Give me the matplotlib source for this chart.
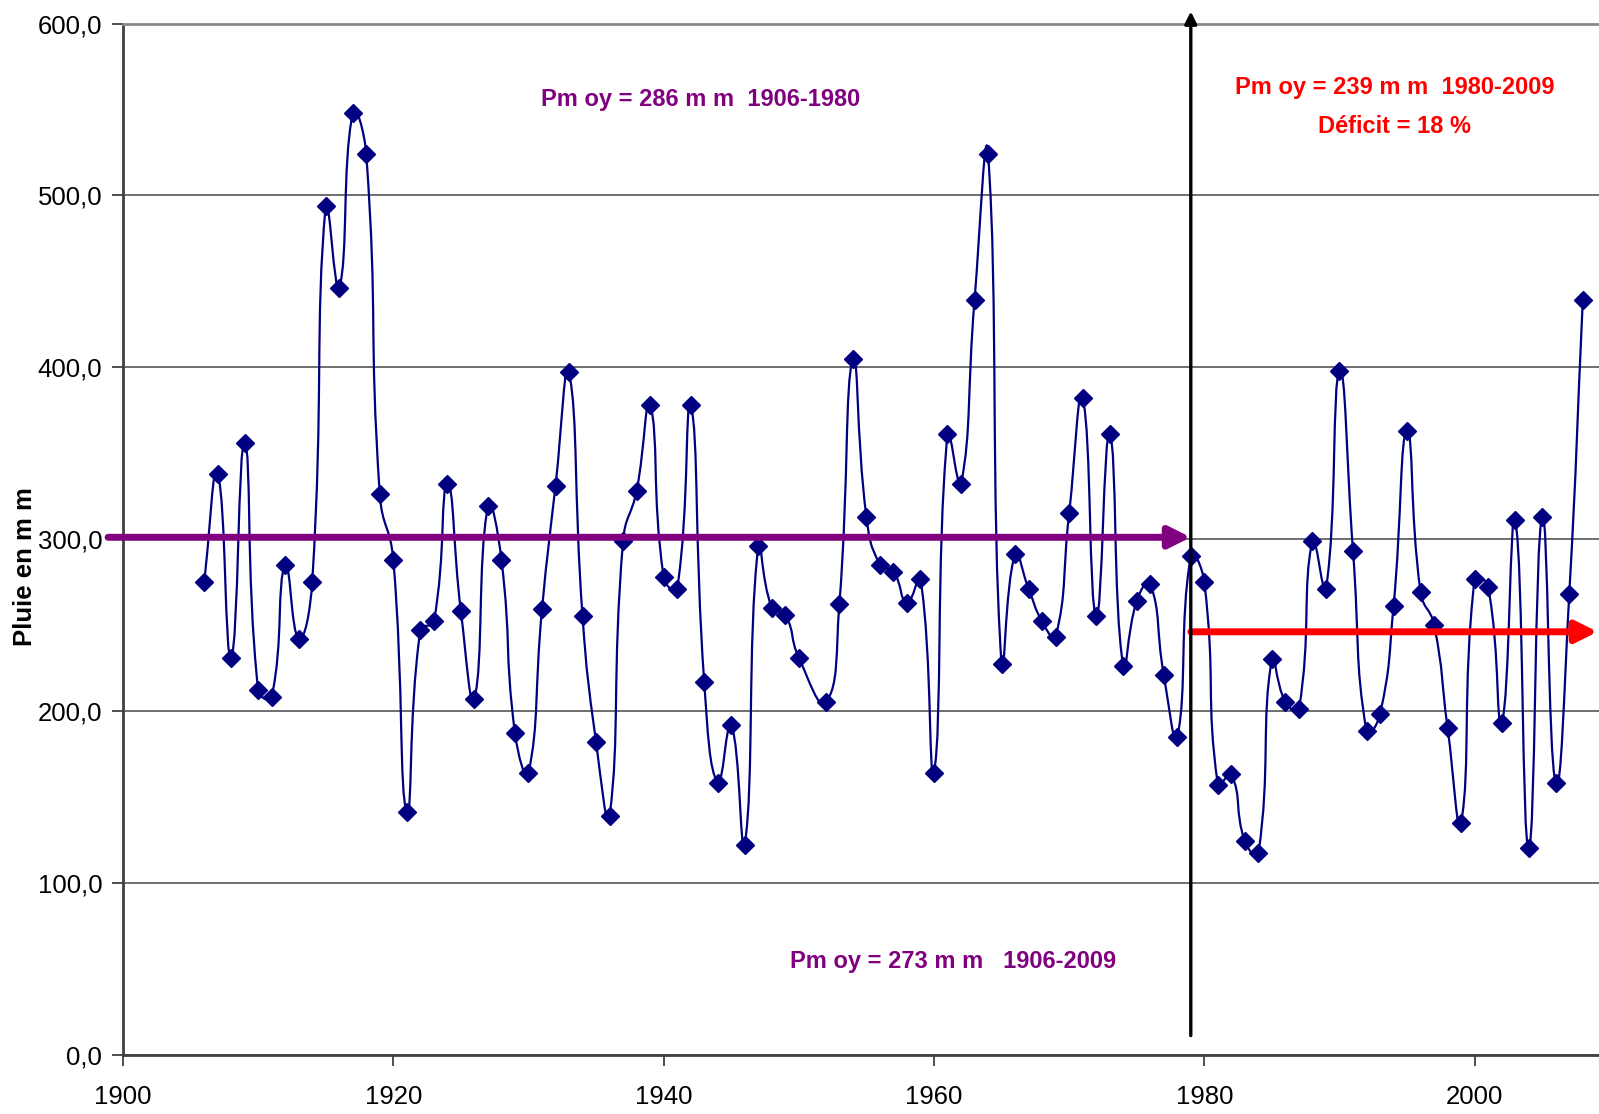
import numpy as np
import matplotlib.pyplot as plt
from matplotlib.path import Path
from matplotlib.patches import PathPatch

# pluie annuelle (mm), 1906-2008 ; 1951 manquant
annees = list(range(1906, 2009))
pluie = [275, 338, 231, 356, 212, 208, 285, 242, 275, 494,
         446, 548, 524, 326, 288, 141, 247, 252, 332, 258,
         207, 319, 288, 187, 164, 259, 331, 397, 255, 182,
         139, 299, 328, 378, 278, 271, 378, 217, 158, 192,
         122, 296, 260, 256, 231, None, 205, 262, 405, 313,
         285, 281, 263, 277, 164, 361, 332, 439, 524, 227,
         291, 271, 252, 243, 315, 382, 255, 361, 226, 264,
         274, 221, 185, 290, 275, 157, 163, 124, 117, 230,
         205, 201, 299, 271, 398, 293, 188, 198, 261, 363,
         269, 250, 190, 135, 277, 272, 193, 311, 120, 313,
         158, 268, 439]

moy_1906_1980 = 301   # niveau de la fleche violette sur le graphique
moy_1980_2009 = 246   # niveau de la fleche rouge
annee_coupure = 1979
x_ticks = [1900, 1920, 1940, 1960, 1980, 2000]
y_ticks = [0, 100, 200, 300, 400, 500, 600]

NARROW = ['Liberation Sans Narrow', 'Liberation Sans', 'DejaVu Sans']
NAVY = '#000080'
PURPLE = '#800080'


def courbe_lissee(ax, xs, ys, t=0.5):
    """chemin de Bezier par les points, tangentes reduites sur les segments courts
    (a peu pres le lissage d'Excel) ; distances mesurees en pixels"""
    pts = np.column_stack([xs, ys]).astype(float)
    pix = ax.transData.transform(pts)
    n = len(pts)
    verts = [pts[0]]
    codes = [Path.MOVETO]

    def tangente(i, cote):
        # cote = +1 : vers le point suivant, -1 : vers le precedent
        a = max(i - 1, 0)
        b = min(i + 1, n - 1)
        d_prev = np.hypot(*(pix[i] - pix[a]))
        d_next = np.hypot(*(pix[b] - pix[i]))
        tot = d_prev + d_next
        if tot == 0:
            return np.zeros(2)
        d = d_next if cote > 0 else d_prev
        return (pts[b] - pts[a]) * d / tot * t

    for i in range(n - 1):
        c1 = pts[i] + tangente(i, +1)
        c2 = pts[i + 1] - tangente(i + 1, -1)
        verts += [c1, c2, pts[i + 1]]
        codes += [Path.CURVE4] * 3
    return Path(verts, codes)


xs = [a for a, v in zip(annees, pluie) if v is not None]
ys = [v for v in pluie if v is not None]

fig = plt.figure(figsize=(15.99, 11.14), dpi=100)
ax = fig.add_axes([0.0769, 0.0534, 0.9231, 0.9255])

ax.set_xlim(1900, 2009.2)
ax.set_ylim(0, 600)

ax.add_patch(PathPatch(courbe_lissee(ax, xs, ys), fill=False, edgecolor=NAVY, lw=1.6, zorder=3))
ax.plot(xs, ys, linestyle='none', marker='D', markersize=9.5, color=NAVY, zorder=4)

# grille
ax.set_yticks(y_ticks)
ax.set_xticks(x_ticks)
ax.yaxis.grid(True, color='#555555', lw=1.2)
ax.set_axisbelow(True)
ax.spines['right'].set_visible(False)
ax.spines['top'].set_color('#888888')
ax.spines['top'].set_linewidth(2)
ax.spines['left'].set_color('#404040')
ax.spines['left'].set_linewidth(2)
ax.spines['bottom'].set_color('#404040')
ax.spines['bottom'].set_linewidth(2)
ax.tick_params(axis='both', direction='out', length=8, width=1.3, color='#404040')
ax.set_yticklabels([f'{v},0' for v in y_ticks], family=NARROW, fontsize=18.5)
ax.set_xticklabels([str(v) for v in x_ticks], family=NARROW, fontsize=18.5)
ax.tick_params(axis='x', pad=14)
ax.tick_params(axis='y', pad=7)

# fleches
ax.annotate('', xy=(annee_coupure, moy_1906_1980), xytext=(1898.9, moy_1906_1980),
            arrowprops=dict(arrowstyle='-|>', color=PURPLE, lw=5, mutation_scale=32,
                            shrinkA=0, shrinkB=0),
            annotation_clip=False, zorder=5)
ax.annotate('', xy=(2009.1, moy_1980_2009), xytext=(annee_coupure, moy_1980_2009),
            arrowprops=dict(arrowstyle='-|>', color='red', lw=5, mutation_scale=32,
                            shrinkA=0, shrinkB=0),
            annotation_clip=False, zorder=5)
ax.annotate('', xy=(annee_coupure, 607), xytext=(annee_coupure, 11),
            arrowprops=dict(arrowstyle='-|>', color='black', lw=2.4, mutation_scale=18,
                            shrinkA=0, shrinkB=0),
            annotation_clip=False, zorder=6)

# textes
txt = dict(fontsize=17, fontweight='bold', family=NARROW, ha='center', va='center')
ax.text(1942.7, 556, 'Pm oy = 286 m m  1906-1980', color=PURPLE, **txt)
ax.text(1994.1, 563, 'Pm oy = 239 m m  1980-2009', color='red', **txt)
ax.text(1994.1, 540, 'Déficit = 18 %', color='red', **txt)
ax.text(1961.4, 54, 'Pm oy = 273 m m   1906-2009', color=PURPLE, **txt)

fig.text(0.0156, 0.491, 'Pluie en m m', rotation=90, fontsize=18.5, fontweight='bold',
         family=NARROW, ha='center', va='center')

fig.savefig('out.png', dpi=100)
